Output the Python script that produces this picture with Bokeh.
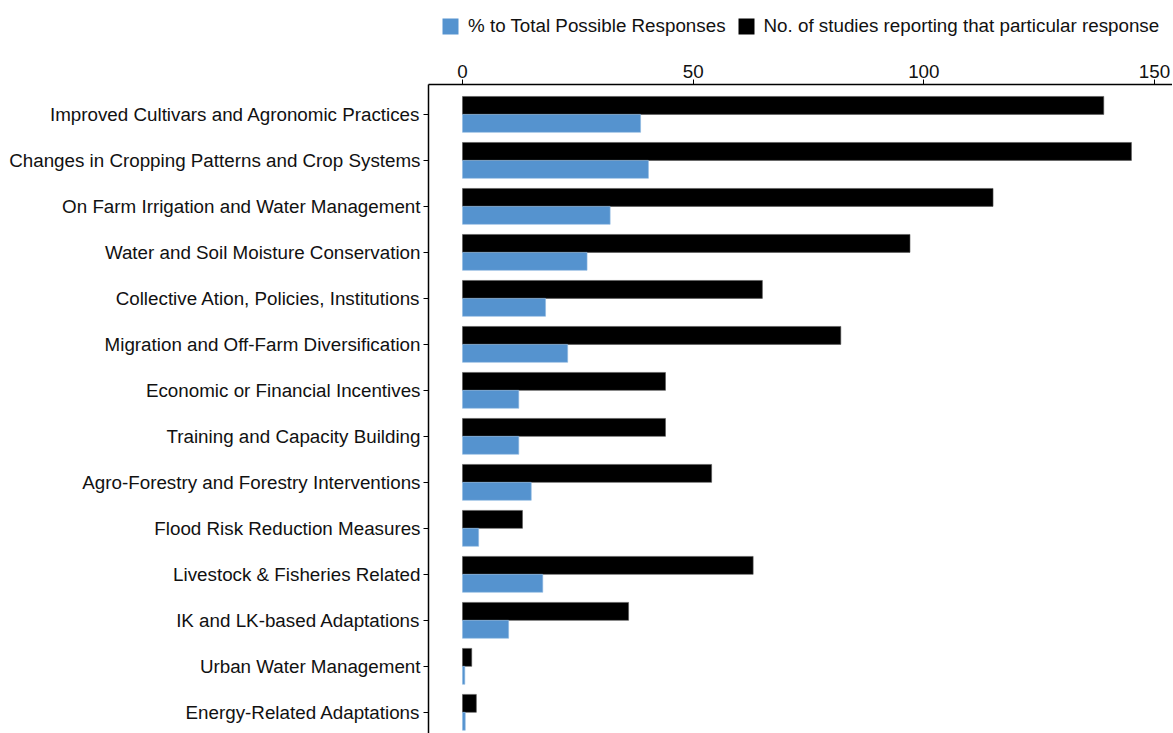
from bokeh.plotting import figure
from bokeh.layouts import column
from bokeh.models import Range1d, FixedTicker, Legend, LegendItem, ColumnDataSource
from bokeh.embed import file_html
from bokeh.resources import INLINE

categories = [
    "Improved Cultivars and Agronomic Practices",
    "Changes in Cropping Patterns and Crop Systems",
    "On Farm Irrigation and Water Management",
    "Water and Soil Moisture Conservation",
    "Collective Ation, Policies, Institutions",
    "Migration and Off-Farm Diversification",
    "Economic or Financial Incentives",
    "Training and Capacity Building",
    "Agro-Forestry and Forestry Interventions",
    "Flood Risk Reduction Measures",
    "Livestock & Fisheries Related",
    "IK and LK-based Adaptations",
    "Urban Water Management",
    "Energy-Related Adaptations",
]
pct_total = [38.6, 40.3, 32.0, 27.0, 18.0, 22.8, 12.2, 12.2, 14.9, 3.5, 17.4, 10.0, 0.5, 0.6]
n_studies = [139, 145, 115, 97, 65, 82, 44, 44, 54, 13, 63, 36, 2, 3]
x_ticks = [0, 50, 100, 150]
series_labels = ["% to Total Possible Responses",
                 "No. of studies reporting that particular response"]

FONT = "Liberation Sans"
FS = "18.8px"
BLUE = "#5593CF"
BAR_H = 0.39
W = 1172
H = 733
LEG_H = 42
LEFT = 428

pos = list(range(len(categories)))
src = ColumnDataSource(dict(
    y_black=[p - BAR_H / 2 for p in pos],
    y_blue=[p + BAR_H / 2 for p in pos],
    studies=n_studies,
    pct=pct_total,
))

# ---- legend strip (top) ----
leg_fig = figure(width=W, height=LEG_H, output_backend="svg", toolbar_location=None,
                 x_range=Range1d(0, 1), y_range=Range1d(0, 1),
                 min_border=0, min_border_left=0, min_border_right=0,
                 min_border_top=0, min_border_bottom=0)
leg_fig.axis.visible = False
leg_fig.grid.visible = False
leg_fig.outline_line_color = None
# zero-size legend proxies (nothing visible in the strip itself)
proxy = ColumnDataSource(dict(y=[0], right=[0]))
lb = leg_fig.hbar(y="y", right="right", left=0, height=0, source=proxy,
                  fill_color=BLUE, line_color=None)
lk = leg_fig.hbar(y="y", right="right", left=0, height=0, source=proxy,
                  fill_color="black", line_color=None)
legend = Legend(items=[
    LegendItem(label=series_labels[0], renderers=[lb]),
    LegendItem(label=series_labels[1], renderers=[lk]),
], orientation="horizontal", location=(440 - LEFT, 5))
legend.label_text_font = FONT
legend.label_text_font_size = FS
legend.label_text_color = "#111111"
legend.glyph_width = 20
legend.glyph_height = 20
legend.label_standoff = 8
legend.spacing = 10
legend.padding = 0
legend.margin = 0
legend.border_line_color = None
legend.background_fill_alpha = 0
leg_fig.add_layout(legend, "center")

# ---- main chart ----
p = figure(width=W, height=H - LEG_H, output_backend="svg", toolbar_location=None,
           x_axis_location="above",
           x_range=Range1d(-7.37, 153.9), y_range=Range1d(13.46, -0.65),
           min_border_left=LEFT, min_border_right=0, min_border_top=84 - LEG_H,
           min_border_bottom=0)

r_black = p.hbar(y="y_black", right="studies", left=0, height=BAR_H, source=src,
                 fill_color="black", line_color="#555555", line_width=0.6)
r_blue = p.hbar(y="y_blue", right="pct", left=0, height=BAR_H, source=src,
                fill_color=BLUE, line_color="#8fb8e0", line_width=0.6)

p.xgrid.visible = False
p.ygrid.visible = False
p.outline_line_color = None

xa = p.xaxis[0]
xa.ticker = FixedTicker(ticks=x_ticks)
xa.minor_tick_line_color = None
xa.major_tick_out = 5
xa.major_tick_in = 0
xa.axis_line_width = 1.5
xa.axis_line_color = "black"
xa.major_tick_line_color = "black"
xa.major_label_text_font = FONT
xa.major_label_text_font_size = FS
xa.major_label_text_color = "#111111"
xa.major_label_standoff = 2

ya = p.yaxis[0]
ya.ticker = FixedTicker(ticks=pos)
ya.major_label_overrides = {i: c for i, c in enumerate(categories)}
ya.minor_tick_line_color = None
ya.major_tick_out = 5
ya.major_tick_in = 0
ya.axis_line_width = 1.5
ya.axis_line_color = "black"
ya.major_tick_line_color = "black"
ya.major_label_text_font = FONT
ya.major_label_text_font_size = FS
ya.major_label_text_color = "#111111"
ya.major_label_standoff = 3

layout = column(leg_fig, p, spacing=0)
open("out.html", "w").write(file_html(layout, INLINE))
